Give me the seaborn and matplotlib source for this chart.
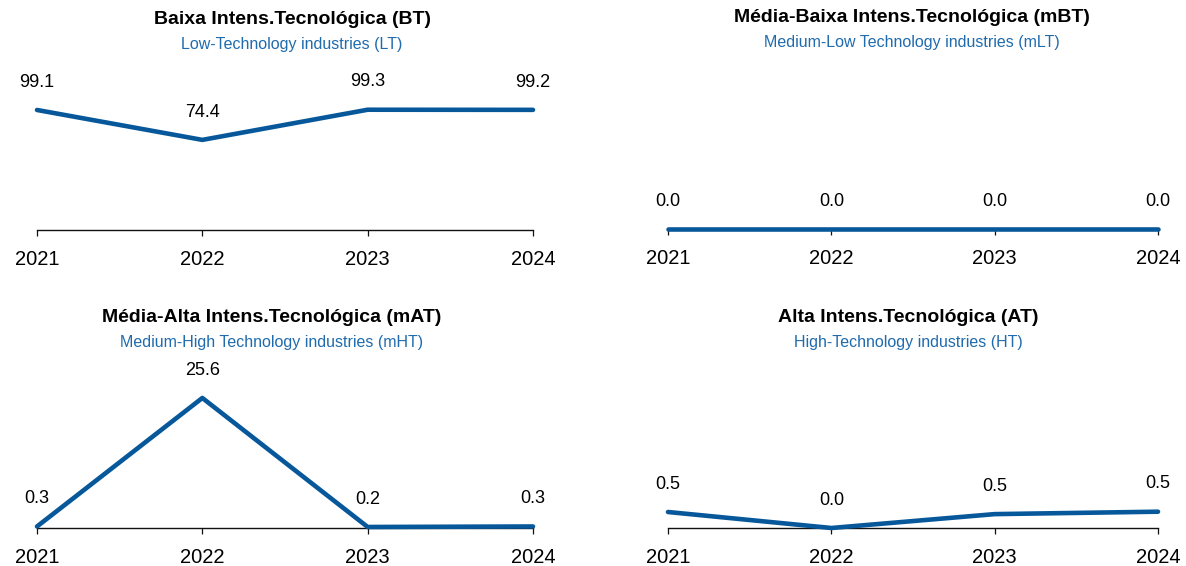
import matplotlib
matplotlib.use("Agg")
import matplotlib.pyplot as plt
import seaborn as sns
import pandas as pd

# ======================================================
# DATA
# ======================================================
years = [2021, 2022, 2023, 2024]

bt_values = [99.1, 74.4, 99.3, 99.2]
mbt_values = [0.0, 0.0, 0.0, 0.0]
mat_values = [0.3, 25.6, 0.2, 0.3]
at_values = [0.53, 0.0, 0.46, 0.54]

titles = [
    "Baixa Intens.Tecnológica (BT)",
    "Média-Baixa Intens.Tecnológica (mBT)",
    "Média-Alta Intens.Tecnológica (mAT)",
    "Alta Intens.Tecnológica (AT)",
]
subtitles = [
    "Low-Technology industries (LT)",
    "Medium-Low Technology industries (mLT)",
    "Medium-High Technology industries (mHT)",
    "High-Technology industries (HT)",
]

# ======================================================
# STYLE
# ======================================================
sns.set_style("white")
plt.rcParams['font.family'] = ['Liberation Sans', 'DejaVu Sans']
plt.rcParams['text.color'] = 'black'
plt.rcParams['xtick.color'] = 'black'
plt.rcParams['xtick.labelcolor'] = 'black'

line_color = "#07589a"
sub_color = "#1f6bae"
W, H = 1186, 566

fig = plt.figure(figsize=(W / 100, H / 100), dpi=100)

# panel geometry in pixels: left, right, bottom (baseline), top
panels = [
    (37, 533, 230, 70, bt_values, 132.1, 292, 20),
    (668, 1158, 229, 69, mbt_values, 1.0, 912, 18),
    (37, 533, 528, 368, mat_values, 31.5, 272, 318),
    (668, 1158, 528, 368, at_values, 5.3, 908, 318),
]

for i, (x0, x1, yb, yt, vals, ymax, tx, ty) in enumerate(panels):
    ax = fig.add_axes([x0 / W, 1 - yb / H, (x1 - x0) / W, (yb - yt) / H])
    df = pd.DataFrame({"Ano": years, "Valor": vals})
    sns.lineplot(data=df, x="Ano", y="Valor", ax=ax, color=line_color,
                 linewidth=3.3, clip_on=False, solid_capstyle="round",
                 zorder=3)
    ax.set_xlim(years[0], years[-1])
    ax.set_ylim(0, ymax)
    ax.set_xticks(years)
    ax.set_xticklabels([str(y) for y in years])
    ax.set_yticks([])
    ax.set_xlabel("")
    ax.set_ylabel("")
    for s in ["top", "right", "left"]:
        ax.spines[s].set_visible(False)
    ax.spines["bottom"].set_color("#111111")
    ax.spines["bottom"].set_linewidth(1.0)
    ax.tick_params(axis="x", direction="out", length=4.5, width=0.9,
                   color="#111111", labelsize=14.5, pad=10, bottom=True)

    for xv, yv in zip(years, vals):
        ax.annotate(f"{yv:.1f}", (xv, yv), xytext=(0, 20),
                    textcoords="offset points", ha="center", va="center",
                    fontsize=13, color="black", annotation_clip=False)

    fig.text(tx / W, 1 - ty / H, titles[i], ha="center", va="center",
             fontsize=14, fontweight="bold", color="black")
    fig.text(tx / W, 1 - (ty + 25) / H, subtitles[i], ha="center",
             va="center", fontsize=11.5, color=sub_color)

fig.savefig("out.png", dpi=100)
